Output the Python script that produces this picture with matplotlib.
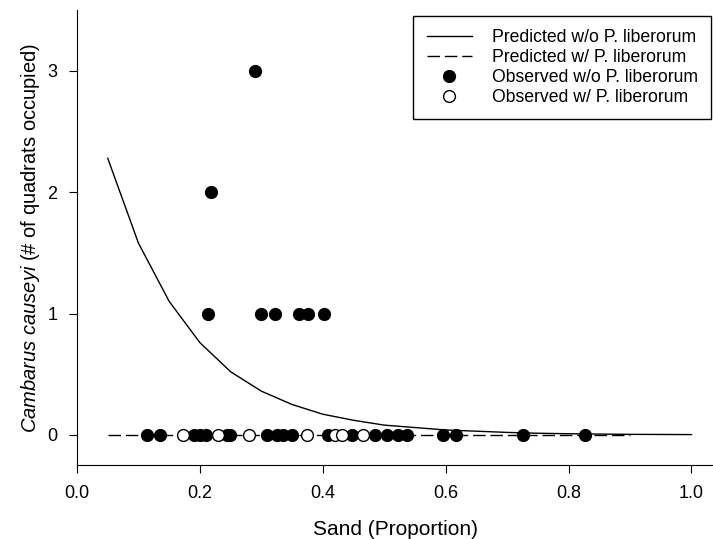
import numpy as np
import matplotlib
matplotlib.use('Agg')
import matplotlib.pyplot as plt

# predicted curves
pred_x = [0.05, 0.10, 0.15, 0.20, 0.25, 0.30, 0.35, 0.40, 0.45, 0.50,
          0.55, 0.60, 0.65, 0.70, 0.75, 0.80, 0.85, 0.90, 0.95, 1.00]
pred_without = [2.28, 1.58, 1.10, 0.76, 0.52, 0.36, 0.25, 0.17, 0.12, 0.08,
                0.06, 0.04, 0.03, 0.02, 0.013, 0.009, 0.006, 0.004, 0.003, 0.002]
pred_with_x = [0.05, 0.90]
pred_with = [0.0, 0.0]

# observed w/o P. liberorum
obs_without_x = [0.29, 0.218, 0.213, 0.30, 0.322, 0.362, 0.376, 0.402,
                 0.114, 0.135, 0.19, 0.20, 0.21, 0.244, 0.249, 0.309, 0.325,
                 0.335, 0.350, 0.409, 0.447, 0.485, 0.504, 0.523, 0.537,
                 0.596, 0.617, 0.725, 0.827]
obs_without_y = [3, 2, 1, 1, 1, 1, 1, 1,
                 0, 0, 0, 0, 0, 0, 0, 0, 0,
                 0, 0, 0, 0, 0, 0, 0, 0,
                 0, 0, 0, 0]

# observed w/ P. liberorum
obs_with_x = [0.172, 0.230, 0.280, 0.374, 0.420, 0.431, 0.466]
obs_with_y = [0, 0, 0, 0, 0, 0, 0]


def main():
    plt.rcParams['font.family'] = ['Liberation Sans', 'DejaVu Sans']
    plt.rcParams['mathtext.fontset'] = 'custom'
    plt.rcParams['mathtext.it'] = 'Liberation Sans:italic'
    plt.rcParams['mathtext.rm'] = 'Liberation Sans'

    fig = plt.figure(figsize=(7.13, 5.39), dpi=100)
    ax = fig.add_axes([0.108, 0.137, 0.892, 0.844])

    ax.plot(pred_x, pred_without, color='black', lw=1.0, label='Predicted w/o P. liberorum')
    ax.plot(pred_with_x, pred_with, color='black', lw=1.0, dashes=(9, 3.5),
            label='Predicted w/ P. liberorum')
    ax.plot(obs_without_x, obs_without_y, 'o', color='black', ms=8.5,
            label='Observed w/o P. liberorum')
    ax.plot(obs_with_x, obs_with_y, 'o', mfc='white', mec='black', mew=1.0, ms=8.5,
            label='Observed w/ P. liberorum')

    ax.set_xlim(0, 1.035)
    ax.set_ylim(-0.25, 3.5)
    ax.set_xticks([0.0, 0.2, 0.4, 0.6, 0.8, 1.0])
    ax.set_xticklabels(['0.0', '0.2', '0.4', '0.6', '0.8', '1.0'])
    ax.set_yticks([0, 1, 2, 3])
    ax.spines['top'].set_visible(False)
    ax.spines['right'].set_visible(False)
    ax.tick_params(direction='out', length=6, labelsize=13, pad=8)

    ax.set_xlabel('Sand (Proportion)', fontsize=15, labelpad=13)
    ax.set_ylabel(r'$\it{Cambarus\ causeyi}$ (# of quadrats occupied)', fontsize=14.5, labelpad=4)

    leg = ax.legend(loc='upper right', bbox_to_anchor=(711 / 713, 1 - 16 / 539),
                    bbox_transform=fig.transFigure, borderaxespad=0, fontsize=12.7,
                    frameon=True, fancybox=False, edgecolor='black', framealpha=1,
                    handlelength=2.6, handletextpad=1.1, labelspacing=0.16,
                    borderpad=0.75, numpoints=1)
    leg.get_frame().set_linewidth(1.0)

    fig.savefig('out.png', dpi=100)


if __name__ == '__main__':
    main()
